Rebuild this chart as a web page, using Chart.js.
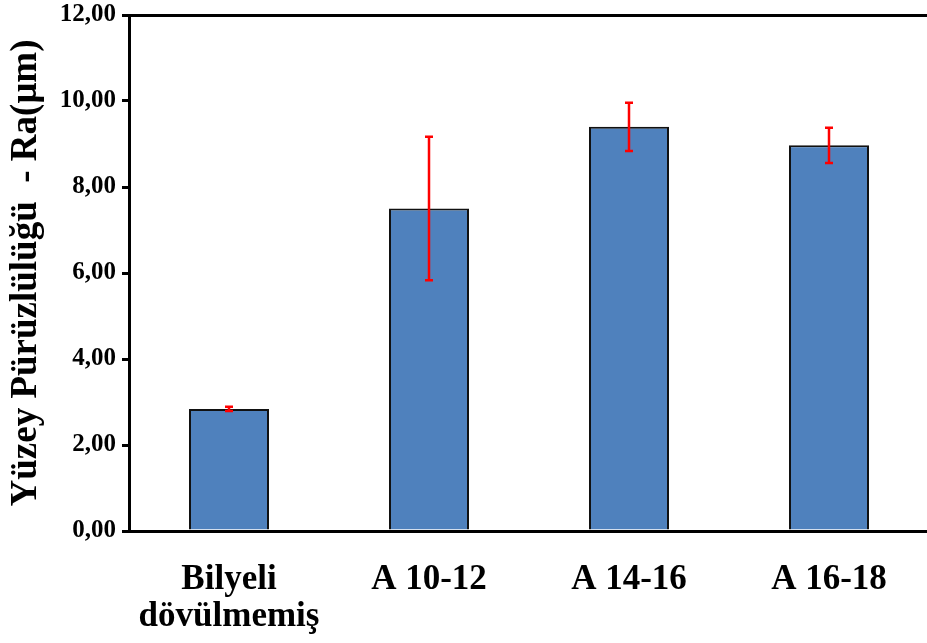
<!DOCTYPE html>
<html>
<head>
<meta charset="utf-8">
<script src="https://cdn.jsdelivr.net/npm/chart.js@4/dist/chart.umd.min.js"></script>
<style>
  html, body { margin: 0; padding: 0; background: #fff; overflow: hidden; }
  #wrap { position: relative; width: 929px; height: 643px; }
</style>
</head>
<body>
<div id="wrap"><canvas id="chart"></canvas></div>
<script>
var categories = [['Bilyeli', 'dövülmemiş'], 'A 10-12', 'A 14-16', 'A 16-18'];
var roughness = [2.84, 7.50, 9.40, 8.97];
var errors = [0.05, 1.67, 0.56, 0.41];
var yTicks = [0, 2, 4, 6, 8, 10, 12];

var serif = '"Liberation Serif", "Times New Roman", serif';

var errorBars = {
  id: 'errorBars',
  afterDatasetsDraw: function (chart) {
    var ctx = chart.ctx;
    var y = chart.scales.y;
    var meta = chart.getDatasetMeta(0);
    ctx.save();
    ctx.strokeStyle = '#ff0000';
    ctx.lineWidth = 2.5;
    meta.data.forEach(function (bar, i) {
      var top = y.getPixelForValue(roughness[i] + errors[i]);
      var bottom = y.getPixelForValue(roughness[i] - errors[i]);
      var x = bar.x;
      ctx.beginPath();
      ctx.moveTo(x, top);
      ctx.lineTo(x, bottom);
      ctx.moveTo(x - 4, top);
      ctx.lineTo(x + 4, top);
      ctx.moveTo(x - 4, bottom);
      ctx.lineTo(x + 4, bottom);
      ctx.stroke();
    });
    ctx.restore();
  }
};

new Chart(document.getElementById('chart'), {
  type: 'bar',
  data: {
    labels: categories,
    datasets: [{
      data: roughness,
      backgroundColor: '#4f81bd',
      borderColor: '#111',
      borderWidth: 2,
      categoryPercentage: 0.8,
      barPercentage: 0.5
    }]
  },
  options: {
    responsive: true,
    maintainAspectRatio: false,
    animation: false,
    layout: { padding: { top: 15, right: 0, bottom: 0, left: 0 } },
    plugins: { legend: { display: false }, tooltip: { enabled: false } },
    scales: {
      x: {
        grid: { display: false },
        border: { display: true, color: '#000', width: 3 },
        ticks: {
          color: '#000',
          padding: 22,
          maxRotation: 0,
          font: { family: serif, size: 35, weight: 'bold', lineHeight: 1.07 }
        },
        afterFit: function (scale) { scale.height = 112; }
      },
      y: {
        min: 0,
        max: 12,
        afterBuildTicks: function (scale) {
          scale.ticks = yTicks.map(function (v) { return { value: v }; });
        },
        grid: {
          drawOnChartArea: true,
          color: function (c) { return c.tick && c.tick.value === 12 ? '#000' : 'rgba(0,0,0,0)'; },
          tickColor: '#000',
          tickLength: 7,
          lineWidth: 3
        },
        border: { display: true, color: '#000', width: 3 },
        ticks: {
          color: '#000',
          padding: 6,
          font: { family: serif, size: 25, weight: 'bold' },
          callback: function (v) { return v.toFixed(2).replace('.', ','); }
        },
        title: {
          display: true,
          text: 'Yüzey Pürüzlülüğü  - Ra(μm)',
          color: '#000',
          padding: { top: 4, bottom: 2 },
          font: { family: serif, size: 37, weight: 'bold' }
        },
        afterFit: function (scale) {
          scale.width = 129;
          scale.paddingTop = 0;
          scale.paddingBottom = 0;
        }
      }
    }
  },
  plugins: [errorBars]
});
</script>
</body>
</html>
